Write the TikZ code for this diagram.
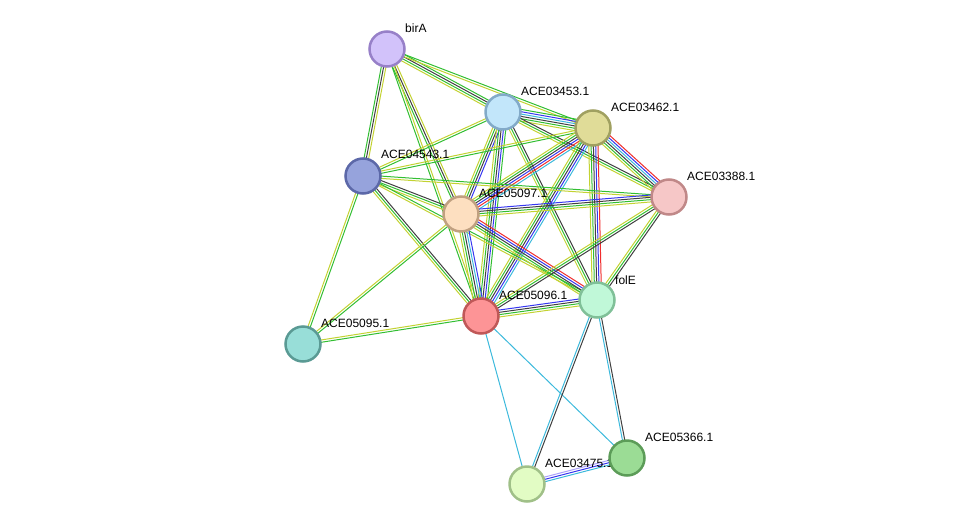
\documentclass[tikz,border=0pt]{standalone}
\usepackage{fontspec}
\setmainfont{Liberation Sans}
\usetikzlibrary{calc,backgrounds}
\definecolor{sgreen}{RGB}{50,190,50}
\definecolor{syellow}{RGB}{195,210,50}
\definecolor{sblack}{RGB}{64,64,64}
\definecolor{sblue}{RGB}{55,55,240}
\definecolor{scyan}{RGB}{60,185,220}
\definecolor{sred}{RGB}{240,45,45}
\definecolor{slav}{RGB}{170,160,250}
\newcommand\medge[3]{%
  \foreach \c [count=\i] in {#3} {\xdef\nE{\i}}%
  \foreach \c [count=\i] in {#3} {%
    \pgfmathsetmacro\off{(\i-(\nE+1)/2)*2.3}%
    \draw[\c, line width=1pt] ($(#1.center)!\off pt!90:(#2.center)$) -- ($(#2.center)!\off pt!-90:(#1.center)$);
  }}
\tikzset{
  prot/.style={circle, minimum size=35pt, inner sep=0pt, line width=2.5pt},
  lbl/.style={anchor=west, font=\fontsize{12}{14}\selectfont, inner sep=0pt, text=black}
}
\begin{document}
\begin{tikzpicture}[x=1pt,y=-1pt]
\useasboundingbox (0,0) rectangle (976,530);
% nodes and labels
\node[prot, fill={rgb,255:red,210;green,194;blue,250}, draw={rgb,255:red,151;green,128;blue,200}] (birA) at (387,49) {};
\node[lbl] (birA-l) at (405,28) {birA};
\node[prot, fill={rgb,255:red,194;green,230;blue,250}, draw={rgb,255:red,130;green,170;blue,200}] (a3453) at (503,112) {};
\node[lbl] (a3453-l) at (521,91) {ACE03453.1};
\node[prot, fill={rgb,255:red,224;green,220;blue,152}, draw={rgb,255:red,160;green,160;blue,96}] (a3462) at (593,128) {};
\node[lbl] (a3462-l) at (611,107) {ACE03462.1};
\node[prot, fill={rgb,255:red,150;green,163;blue,220}, draw={rgb,255:red,92;green,104;blue,168}] (a4543) at (363,176) {};
\node[lbl] (a4543-l) at (381,154) {ACE04543.1};
\node[prot, fill={rgb,255:red,253;green,223;blue,192}, draw={rgb,255:red,192;green,160;blue,128}] (a5097) at (461,214) {};
\node[lbl] (a5097-l) at (479,193) {ACE05097.1};
\node[prot, fill={rgb,255:red,246;green,199;blue,199}, draw={rgb,255:red,192;green,136;blue,136}] (a3388) at (669,197) {};
\node[lbl] (a3388-l) at (687,176) {ACE03388.1};
\node[prot, fill={rgb,255:red,192;green,248;blue,216}, draw={rgb,255:red,128;green,192;blue,152}] (folE) at (597,300) {};
\node[lbl] (folE-l) at (615,280) {folE};
\node[prot, fill={rgb,255:red,253;green,148;blue,150}, draw={rgb,255:red,192;green,88;blue,88}] (a5096) at (481,316) {};
\node[lbl] (a5096-l) at (499,295) {ACE05096.1};
\node[prot, fill={rgb,255:red,152;green,222;blue,216}, draw={rgb,255:red,90;green,154;blue,148}] (a5095) at (303,344) {};
\node[lbl] (a5095-l) at (321,323) {ACE05095.1};
\node[prot, fill={rgb,255:red,226;green,252;blue,196}, draw={rgb,255:red,160;green,192;blue,136}] (a3475) at (527,484) {};
\node[lbl] (a3475-l) at (545,463) {ACE03475.1};
\node[prot, fill={rgb,255:red,155;green,220;blue,149}, draw={rgb,255:red,92;green,156;blue,88}] (a5366) at (627,458) {};
\node[lbl] (a5366-l) at (645,437) {ACE05366.1};
% edges
\begin{scope}[on background layer]
\medge{birA}{a3453}{syellow,sgreen,sblack,sgreen}
\medge{birA}{a3462}{syellow,sgreen}
\medge{birA}{a4543}{sgreen,sblack,syellow}
\medge{birA}{a5097}{sgreen,sblack,syellow}
\medge{birA}{a5096}{sgreen,syellow}
\medge{a3453}{a3462}{syellow,sgreen,sblack,scyan,sblue,sgreen}
\medge{a3453}{a4543}{syellow,sgreen}
\medge{a3453}{a5097}{syellow,sgreen,sblack,sblue}
\medge{a3453}{a5096}{syellow,sgreen,sblack,sblue,sgreen}
\medge{a3453}{a3388}{syellow,sgreen,sblack}
\medge{a3453}{folE}{syellow,sgreen,sblack}
\medge{a3462}{a4543}{syellow,sgreen}
\medge{a3462}{a5097}{syellow,sgreen,sblack,sblue,sred,scyan}
\medge{a3462}{a5096}{syellow,sgreen,sblack,sblue,scyan}
\medge{a3462}{a3388}{syellow,sgreen,sblack,scyan,sblue,sred}
\medge{a3462}{folE}{syellow,sgreen,sblack,sblue,sred}
\medge{a4543}{a5097}{syellow,sgreen,sblack}
\medge{a4543}{a5096}{syellow,sgreen,sblack}
\medge{a4543}{a3388}{syellow,sgreen}
\medge{a4543}{folE}{syellow,sgreen}
\medge{a4543}{a5095}{syellow,sgreen}
\medge{a5097}{a3388}{syellow,sgreen,sblack,sblue}
\medge{a5097}{a5096}{syellow,sgreen,sblack,scyan,sblue}
\medge{a5097}{folE}{syellow,sgreen,sblack,sblue,sred}
\medge{a5097}{a5095}{syellow,sgreen}
\medge{a3388}{a5096}{syellow,sgreen,sblack}
\medge{a3388}{folE}{syellow,sgreen,sblack}
\medge{a5096}{folE}{syellow,sgreen,sblack,sblue}
\medge{a5096}{a5095}{syellow,sgreen}
\medge{a5096}{a3475}{scyan}
\medge{a5096}{a5366}{scyan}
\medge{folE}{a3475}{scyan,sblack}
\medge{folE}{a5366}{scyan,sblack}
\medge{a3475}{a5366}{scyan,sblue,slav}
\end{scope}
\end{tikzpicture}
\end{document}
